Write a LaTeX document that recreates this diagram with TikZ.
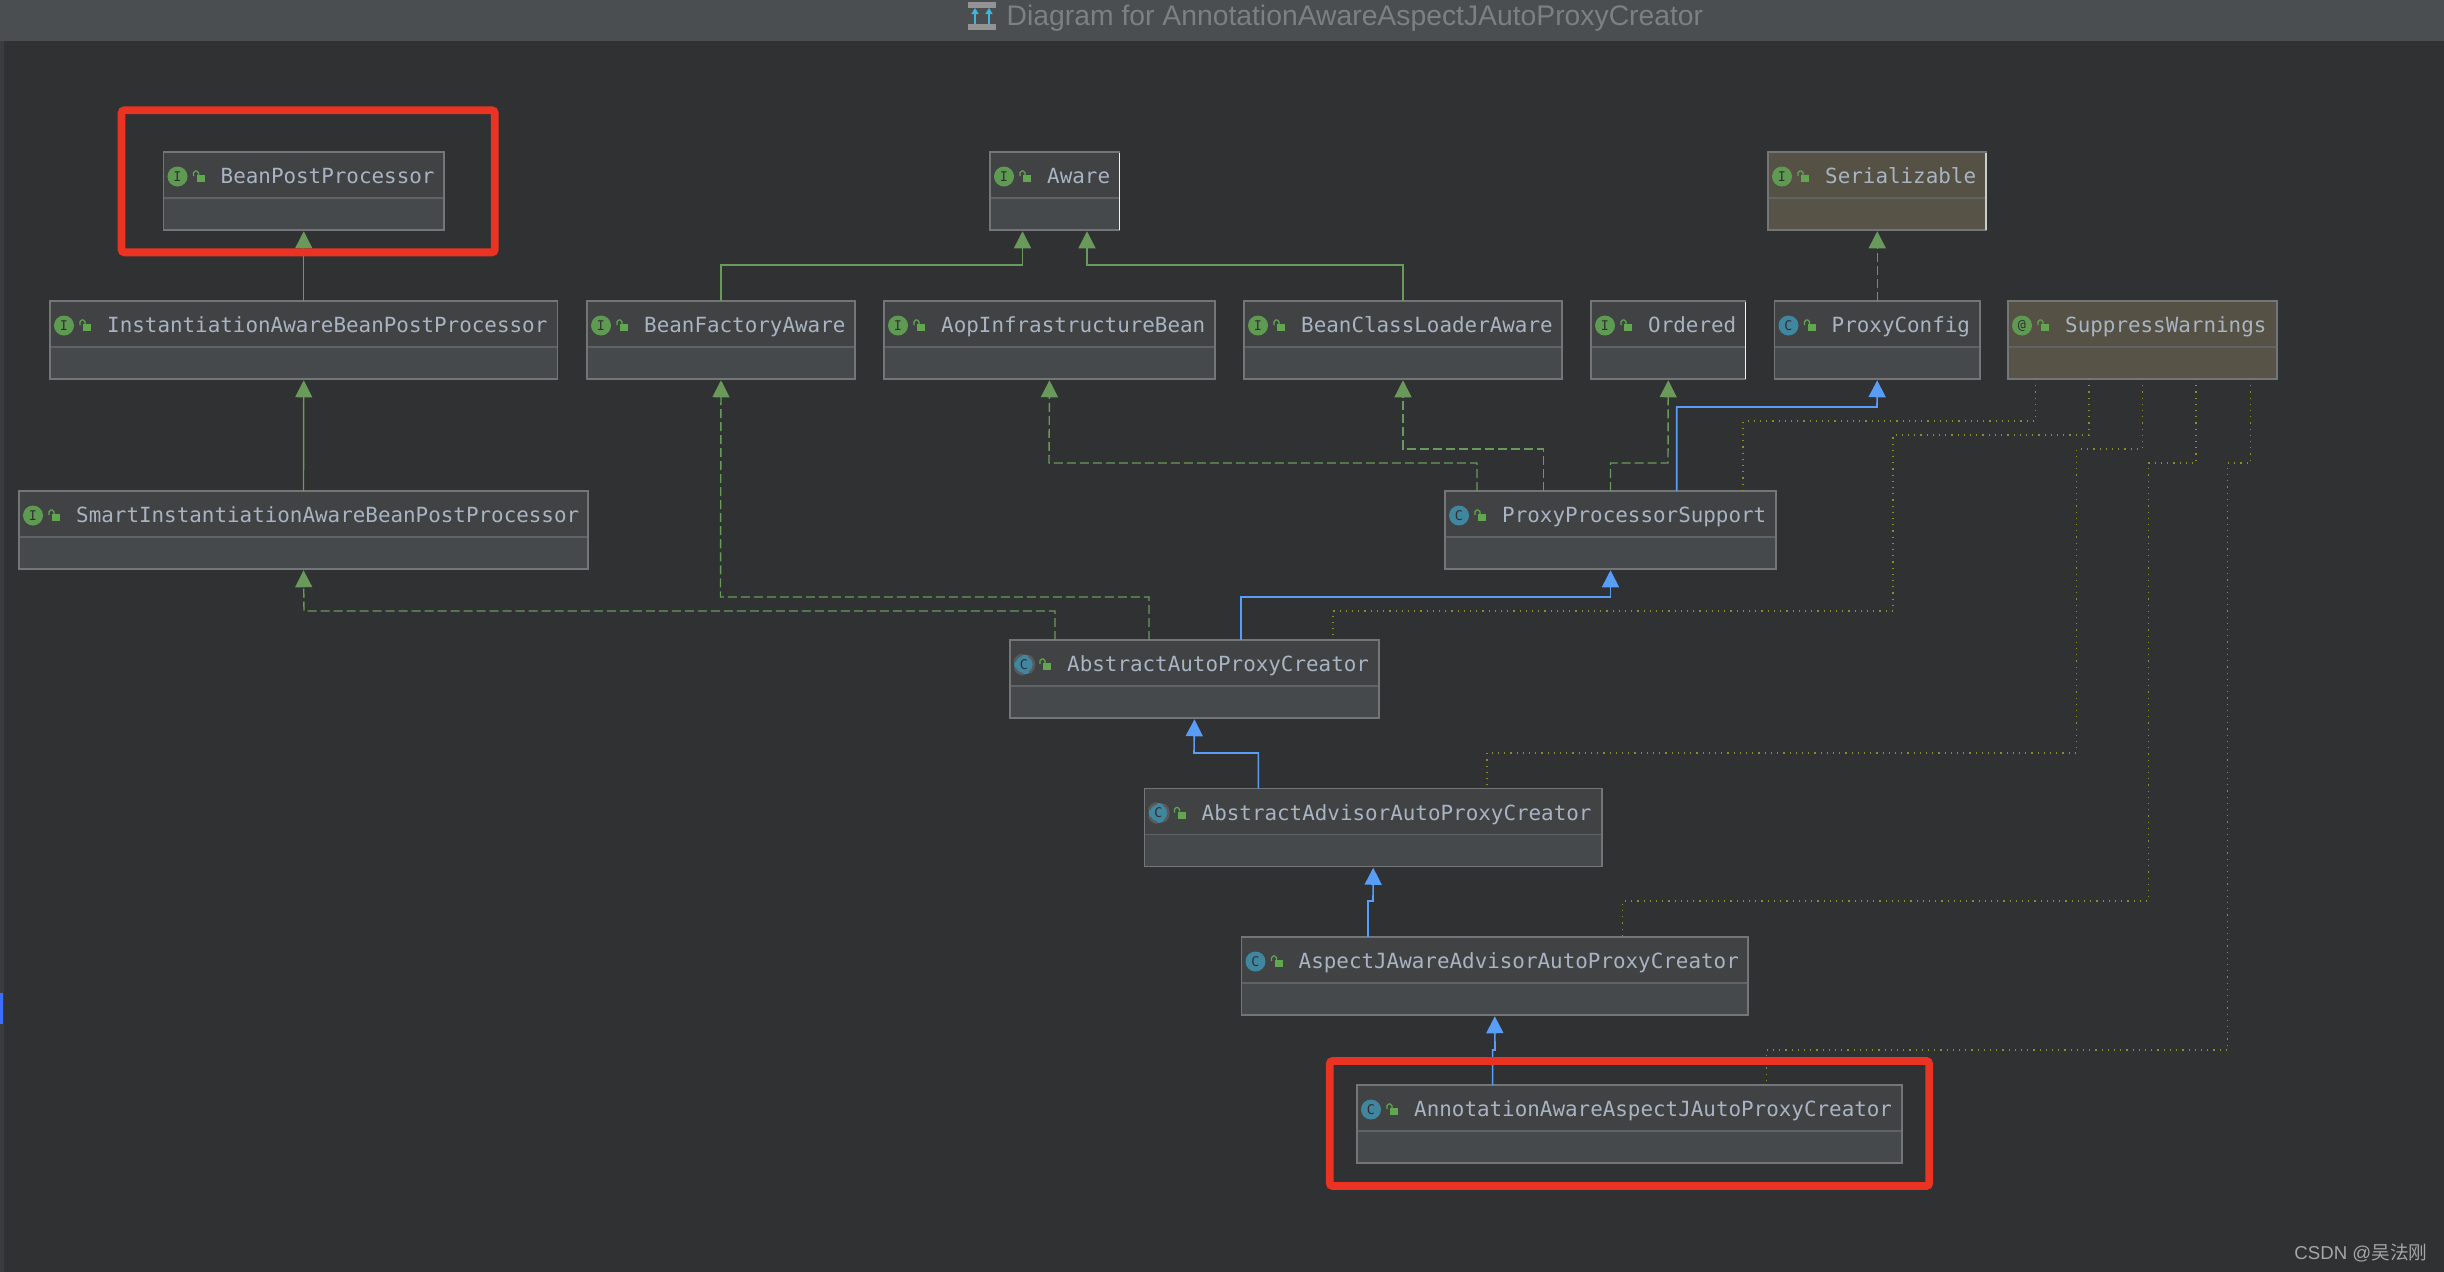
\documentclass[tikz,border=0pt]{standalone}
\usepackage{fontspec}
\usepackage{xcolor}
\usepackage{tikz}
\usetikzlibrary{arrows.meta}
\setmainfont{Liberation Sans}
\newfontfamily\classfont{DejaVu Sans Mono}
\newfontfamily\cjkfont{Noto Sans CJK SC}
\definecolor{Canvas}{HTML}{303132}
\definecolor{TitleBar}{HTML}{4A4E51}
\definecolor{TitleText}{HTML}{7C8084}
\definecolor{SideBar}{HTML}{3A3D3F}
\definecolor{ClassTop}{HTML}{404244}
\definecolor{ClassFill}{HTML}{45494B}
\definecolor{NoteTop}{HTML}{555145}
\definecolor{NoteFill}{HTML}{575346}
\definecolor{BoxEdge}{HTML}{737577}
\definecolor{Divider}{HTML}{606365}
\definecolor{LabelText}{HTML}{A9B4C2}
\definecolor{IfaceGreen}{HTML}{5E9A52}
\definecolor{ClassTeal}{HTML}{40869E}
\definecolor{LockGreen}{HTML}{62A650}
\definecolor{ArrowGreen}{HTML}{6A9A5B}
\definecolor{ArrowBlue}{HTML}{589DF6}
\definecolor{DotOlive}{HTML}{8C8C2E}
\definecolor{MarkRed}{HTML}{EA3323}
\definecolor{IconCyan}{HTML}{3FB6DC}

\tikzset{
  classbody/.style n args={2}{rectangle, draw=BoxEdge, line width=0.015cm, fill=#2, anchor=north west, minimum height=0.78cm, inner sep=0pt, outer sep=0pt,
    path picture={
      \fill[#1] (path picture bounding box.north west) rectangle ([yshift=-0.46cm]path picture bounding box.north east);
      \draw[Divider, line width=0.012cm] ([yshift=-0.46cm]path picture bounding box.north west) -- ([yshift=-0.46cm]path picture bounding box.north east);
    }},
  plainbody/.style={classbody={ClassTop}{ClassFill}},
  notebody/.style={classbody={NoteTop}{NoteFill}},
  classlabel/.style={anchor=base west, inner sep=0pt, text=LabelText, font=\classfont\fontsize{5.94}{7}\selectfont},
  badge/.style={circle, inner sep=0pt, minimum size=0.2cm, text=Canvas, font=\classfont\fontsize{3.8}{4}\selectfont},
  ifacebadge/.style={badge, fill=IfaceGreen},
  classbadge/.style={badge, fill=ClassTeal},
  abstractbadge/.style={badge, fill=ClassTeal, draw=BoxEdge!120, line width=0.025cm, densely dashed},
  lockmark/.pic={
    \fill[LockGreen] (3,-1) rectangle (11,6);
    \draw[LockGreen, line width=0.012cm, rounded corners=0.5pt] (0,0) -- (0,-5) -- (5,-5) -- (5,-1);
  },
  inherit/.style={-{Triangle[width=0.17cm,length=0.17cm]}, draw=ArrowGreen, line width=0.014cm, shorten >=0.012cm},
  realize/.style={inherit, dash pattern=on 0.09cm off 0.04cm},
  extend/.style={-{Triangle[width=0.17cm,length=0.17cm]}, draw=ArrowBlue, line width=0.016cm, shorten >=0.012cm},
  annotated/.style={draw=DotOlive, line width=0.012cm, dash pattern=on 0.012cm off 0.05cm},
  redmark/.style={rectangle, draw=MarkRed, line width=0.078cm, rounded corners=0.03cm, inner sep=0pt},
  rimline/.style={draw=white!90!gray, line width=0.012cm}
}

% name, left, top, width, body, badge, letter, label
\newcommand{\classbox}[8]{
  \node[#5, minimum width=#4*0.01cm] (#1) at (#2,#3) {};
  \node[#6] (#1badge) at ([shift={(14,24.5)}]#1.north west) {#7};
  \pic at ([shift={(30,24)}]#1.north west) {lockmark};
  \node[classlabel] (#1label) at ([shift={(56.5,31.5)}]#1.north west) {#8};
}

\begin{document}
\begin{tikzpicture}[x=0.01cm, y=-0.01cm]

\useasboundingbox (0,0) rectangle (2444,1272);
\fill[Canvas] (0,0) rectangle (2444,1272);
\fill[SideBar] (0,0) rectangle (4,1272);
\fill[ArrowBlue!70!blue] (0,993) rectangle (3,1024);

% title bar
\node[rectangle, fill=TitleBar, minimum width=24.44cm, minimum height=0.41cm, inner sep=0pt] (titlebar) at (1222,20.5) {};
\node[text=TitleText, inner sep=0pt, anchor=base west, font=\fontsize{8.05}{10}\selectfont] (title) at (1006,25) {Diagram for AnnotationAwareAspectJAutoProxyCreator};
\fill[gray!85] (968,2) rectangle (996,8);
\fill[gray!85] (968,24) rectangle (996,30);
\draw[-{Triangle[width=0.07cm,length=0.06cm]}, IconCyan, line width=0.012cm] (975,24) -- (975,8);
\draw[-{Triangle[width=0.07cm,length=0.06cm]}, IconCyan, line width=0.012cm, densely dashed] (989,24) -- (989,8);

\classbox{bpp}{163.5}{152}{280.5}{plainbody}{ifacebadge}{I}{BeanPostProcessor}
\classbox{aware}{990}{152}{129.5}{plainbody}{ifacebadge}{I}{Aware}
\classbox{serial}{1768}{152}{218}{notebody}{ifacebadge}{I}{Serializable}

\classbox{instaware}{50}{301}{507.5}{plainbody}{ifacebadge}{I}{InstantiationAwareBeanPostProcessor}
\classbox{factoryaware}{587}{301}{268}{plainbody}{ifacebadge}{I}{BeanFactoryAware}
\classbox{aopbean}{884}{301}{331}{plainbody}{ifacebadge}{I}{AopInfrastructureBean}
\classbox{loaderaware}{1244}{301}{318}{plainbody}{ifacebadge}{I}{BeanClassLoaderAware}
\classbox{ordered}{1591}{301}{154.5}{plainbody}{ifacebadge}{I}{Ordered}
\classbox{proxyconfig}{1774.5}{301}{205.5}{plainbody}{classbadge}{C}{ProxyConfig}
\classbox{suppress}{2008}{301}{269}{notebody}{ifacebadge}{@}{SuppressWarnings}

\classbox{smartinst}{19}{491}{569}{plainbody}{ifacebadge}{I}{SmartInstantiationAwareBeanPostProcessor}
\classbox{support}{1445}{491}{331}{plainbody}{classbadge}{C}{ProxyProcessorSupport}
\classbox{autocreator}{1010}{640}{369}{plainbody}{abstractbadge}{C}{AbstractAutoProxyCreator}
\classbox{advisor}{1144.5}{788.5}{457.5}{plainbody}{abstractbadge}{C}{AbstractAdvisorAutoProxyCreator}
\classbox{aspectj}{1241.5}{937}{506.5}{plainbody}{classbadge}{C}{AspectJAwareAdvisorAutoProxyCreator}
\classbox{annotation}{1357}{1085}{545}{plainbody}{classbadge}{C}{AnnotationAwareAspectJAutoProxyCreator}

\draw[rimline] ([yshift=-0.01cm]aware.north east) -- (aware.south east);
\draw[rimline] ([yshift=-0.01cm]ordered.north east) -- (ordered.south east);
\draw[rimline, white!60!gray] ([yshift=-0.01cm]serial.north east) -- (serial.south east);

\draw[inherit] (instaware.north) -- (bpp.south);
\draw[inherit] (smartinst.north) -- (instaware.south);
\draw[inherit] (factoryaware.north) |- (1022.5,265) -- (1022.5,0 |- aware.south);
\draw[inherit] (1403,0 |- loaderaware.north) |- (1087,265) -- (1087,0 |- aware.south);
\draw[realize] (proxyconfig.north) -- (proxyconfig.north |- serial.south);

\draw[realize] (1477,0 |- support.north) |- (1049,463) -- (aopbean.south);
\draw[realize] (1543.5,0 |- support.north) |- (1403,449) -- (1403,0 |- loaderaware.south);
\draw[realize] (support.north) |- (1668,463) -- (ordered.south);
\draw[extend] (1676.7,0 |- support.north) |- (1877,407) -- (proxyconfig.south);

\draw[extend] (1240.7,0 |- autocreator.north) |- (1610.5,597) -- (support.south);
\draw[realize] (1149,0 |- autocreator.north) |- (720.5,597) -- (factoryaware.south);
\draw[realize] (1055,0 |- autocreator.north) |- (304,611) -- (smartinst.south);
\draw[extend] (1258.4,0 |- advisor.north) |- (1194,753) -- (autocreator.south);
\draw[extend] (1368,0 |- aspectj.north) |- (1373,901) -- (advisor.south);
\draw[extend] (1492.6,0 |- annotation.north) |- (1495,1050) -- (aspectj.south);

\draw[annotated] (2035.5,0 |- suppress.south) |- (1743,421) -- (1743,0 |- support.north);
\draw[annotated] (2089,0 |- suppress.south) |- (1893,435) |- (1333,611) -- (1333,0 |- autocreator.north);
\draw[annotated] (suppress.south) |- (2076.5,449) |- (1487,753) -- (1487,0 |- advisor.north);
\draw[annotated] (2196,0 |- suppress.south) |- (2148.6,463) |- (1622.7,901) -- (1622.7,0 |- aspectj.north);
\draw[annotated] (2250.7,0 |- suppress.south) |- (2227.8,463) |- (1766.6,1050) -- (1766.6,0 |- annotation.north);

\node[redmark, minimum width=3.73cm, minimum height=1.42cm] (bppmark) at (308.2,181.3) {};
\node[redmark, minimum width=5.99cm, minimum height=1.25cm] (annotationmark) at (1629.5,1123.5) {};

\node[text=gray!70, inner sep=0pt, anchor=base east, font=\fontsize{5.3}{7}\selectfont] (watermark) at (2428,1259) {CSDN @{\cjkfont 吴法刚}};

\end{tikzpicture}
\end{document}
